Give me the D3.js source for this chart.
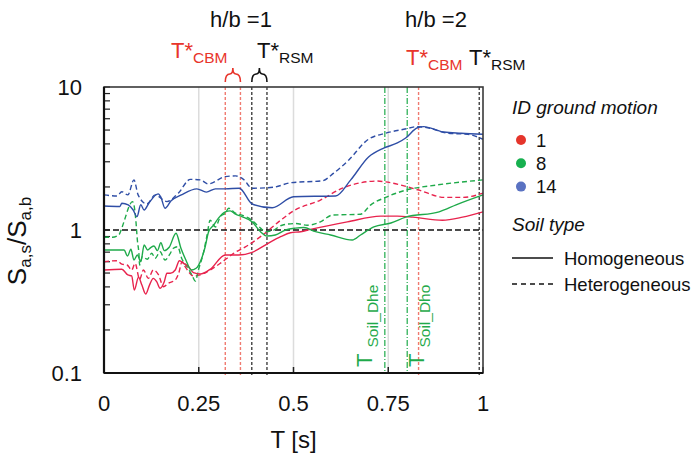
<!DOCTYPE html>
<html>
<head>
<meta charset="utf-8">
<script src="https://cdn.jsdelivr.net/npm/d3@7"></script>
<style>
  body { margin: 0; background: #fff; }
  svg { display: block; font-family: "Liberation Sans", Arial, sans-serif; }
</style>
</head>
<body>
<div id="chart"></div>
<script>
// ---------- data (T [s], Sa,s/Sa,b) ----------
const gm1Hom = [[0,0.525],[0.047,0.531],[0.063,0.485],[0.073,0.477],[0.080,0.380],[0.091,0.467],[0.100,0.412],[0.110,0.357],[0.120,0.412],[0.130,0.459],[0.139,0.435],[0.148,0.391],[0.159,0.435],[0.166,0.498],[0.175,0.498],[0.188,0.525],[0.199,0.610],[0.210,0.585],[0.223,0.554],[0.236,0.503],[0.254,0.492],[0.280,0.531],[0.320,0.669],[0.355,0.669],[0.391,0.698],[0.430,0.798],[0.466,0.898],[0.492,0.957],[0.519,0.973],[0.545,1.01],[0.642,1.14],[0.730,1.25],[0.774,1.25],[0.815,1.23],[0.893,1.17],[0.946,1.23],[1.0,1.34]];
const gm1Het = [[0,0.600],[0.034,0.610],[0.047,0.578],[0.061,0.569],[0.073,0.525],[0.082,0.585],[0.094,0.452],[0.104,0.525],[0.117,0.459],[0.130,0.525],[0.144,0.485],[0.157,0.401],[0.170,0.424],[0.188,0.447],[0.197,0.498],[0.206,0.600],[0.214,0.554],[0.223,0.511],[0.236,0.477],[0.254,0.485],[0.280,0.525],[0.307,0.585],[0.342,0.687],[0.377,0.773],[0.413,0.898],[0.466,1.17],[0.500,1.36],[0.571,1.62],[0.629,1.96],[0.677,2.14],[0.721,2.20],[0.743,2.17],[0.831,1.90],[0.898,1.69],[0.946,1.69],[1.0,1.81]];
const gm8Hom = [[0,0.725],[0.053,0.725],[0.062,0.658],[0.071,0.733],[0.079,0.617],[0.088,0.669],[0.097,0.600],[0.106,0.785],[0.115,0.725],[0.124,0.757],[0.132,0.773],[0.141,0.717],[0.150,0.815],[0.159,0.717],[0.172,0.757],[0.190,0.948],[0.203,0.745],[0.216,0.617],[0.230,0.525],[0.243,0.540],[0.256,0.617],[0.267,0.764],[0.276,0.973],[0.289,1.08],[0.302,1.21],[0.320,1.34],[0.333,1.36],[0.347,1.29],[0.364,1.24],[0.391,1.14],[0.413,0.973],[0.430,0.908],[0.452,0.923],[0.479,1.0],[0.505,1.03],[0.527,1.04],[0.558,0.973],[0.598,0.923],[0.655,0.851],[0.677,0.923],[0.712,1.05],[0.757,1.12],[0.796,1.23],[0.884,1.34],[0.929,1.50],[1.0,1.76]];
const gm8Het = [[0,0.889],[0.022,0.889],[0.039,0.923],[0.048,1.05],[0.057,1.24],[0.066,1.46],[0.075,1.58],[0.079,1.50],[0.084,1.17],[0.088,0.851],[0.092,0.690],[0.094,0.569],[0.101,0.651],[0.114,0.624],[0.126,0.687],[0.135,0.634],[0.148,0.705],[0.161,0.617],[0.175,0.687],[0.183,0.745],[0.194,0.764],[0.206,0.624],[0.219,0.554],[0.232,0.485],[0.241,0.440],[0.249,0.525],[0.262,0.687],[0.272,0.923],[0.280,1.17],[0.294,1.05],[0.307,1.24],[0.320,1.31],[0.329,1.42],[0.347,1.31],[0.364,1.27],[0.382,1.21],[0.395,1.14],[0.413,1.03],[0.426,0.973],[0.444,0.989],[0.470,1.08],[0.505,1.11],[0.536,1.08],[0.571,1.14],[0.602,1.27],[0.677,1.29],[0.704,1.50],[0.743,1.69],[0.796,1.90],[0.876,2.06],[1.0,2.24]];
const gm14Hom = [[0,1.47],[0.042,1.46],[0.047,1.54],[0.064,1.50],[0.077,1.38],[0.087,1.24],[0.097,1.50],[0.106,1.38],[0.119,1.55],[0.143,1.79],[0.150,1.70],[0.161,1.42],[0.177,1.60],[0.204,1.76],[0.245,1.94],[0.270,1.84],[0.294,1.94],[0.320,1.94],[0.357,1.96],[0.391,1.52],[0.444,1.43],[0.500,1.71],[0.611,1.73],[0.651,2.24],[0.698,3.24],[0.738,3.74],[0.774,4.06],[0.796,4.40],[0.827,5.19],[0.844,5.28],[0.870,5.08],[0.897,4.84],[0.942,4.75],[1.0,4.67]];
const gm14Het = [[0,1.76],[0.034,1.73],[0.047,1.85],[0.063,1.76],[0.079,2.24],[0.090,1.76],[0.113,1.52],[0.135,1.76],[0.166,1.58],[0.196,1.81],[0.228,2.26],[0.254,2.24],[0.275,2.10],[0.320,2.36],[0.347,2.39],[0.368,2.26],[0.391,1.96],[0.447,1.99],[0.492,2.14],[0.576,2.21],[0.606,2.50],[0.646,3.09],[0.695,4.26],[0.743,4.75],[0.791,5.06],[0.827,5.28],[0.854,5.19],[0.907,4.75],[0.960,4.67],[1.0,4.31]];

// vertical period markers
const cbmPeriods = [0.32, 0.36, 0.83];
const rsmPeriods = [0.39, 0.43, 0.99];
const soilPeriods = [0.741, 0.80];
const soilLabels = ["Soil_Dhe", "Soil_Dho"];

const xTicks = [0, 0.25, 0.5, 0.75, 1];
const xTickLabels = ["0", "0.25", "0.5", "0.75", "1"];
const yTicks = [0.1, 1, 10];
const yTickLabels = ["0.1", "1", "10"];

const motionIds = ["1", "8", "14"];
const motionColors = ["#e8234d", "#1faa4a", "#2f4ea6"];
const legendDotColors = ["#e5352b", "#17b04f", "#5a72c2"];
const soilTypes = ["Homogeneous", "Heterogeneous"];

// ---------- layout ----------
const W = 695, H = 458;
const pL = 104, pR = 483, pT = 87, pB = 373;

const svg = d3.select("#chart").append("svg").attr("width", W).attr("height", H);

const x = d3.scaleLinear().domain([0, 1]).range([pL, pR]);
const y = d3.scaleLog().domain([0.1, 10]).range([pB, pT]);

// gridlines
svg.append("g").selectAll("line").data([0.25, 0.5, 0.75]).enter().append("line")
    .attr("x1", d => x(d)).attr("x2", d => x(d)).attr("y1", pT).attr("y2", pB)
    .attr("stroke", "#dcdcdc").attr("stroke-width", 1.5);

// minor/major ticks on y (inside)
const yAllTicks = y.ticks();
svg.append("g").selectAll("line").data(yAllTicks).enter().append("line")
    .attr("x1", pL).attr("x2", pL + 6).attr("y1", d => y(d)).attr("y2", d => y(d))
    .attr("stroke", "#222").attr("stroke-width", 1.2);

// x ticks (inside)
svg.append("g").selectAll("line").data(xTicks).enter().append("line")
    .attr("x1", d => x(d)).attr("x2", d => x(d)).attr("y1", pB).attr("y2", pB - 6)
    .attr("stroke", "#222").attr("stroke-width", 1.5);

// vertical period lines
svg.append("g").selectAll("line").data(cbmPeriods).enter().append("line")
    .attr("x1", d => x(d)).attr("x2", d => x(d)).attr("y1", pT).attr("y2", pB + 2)
    .attr("stroke", "#f07a70").attr("stroke-width", 1.4).attr("stroke-dasharray", "3,2");
svg.append("g").selectAll("line").data(rsmPeriods).enter().append("line")
    .attr("x1", d => x(d)).attr("x2", d => x(d)).attr("y1", pT).attr("y2", pB + 2)
    .attr("stroke", "#222").attr("stroke-width", 1.2).attr("stroke-dasharray", "3,2");
svg.append("g").selectAll("line").data(soilPeriods).enter().append("line")
    .attr("x1", d => x(d)).attr("x2", d => x(d)).attr("y1", pT).attr("y2", pB)
    .attr("stroke", "#1faa4a").attr("stroke-width", 1.2).attr("stroke-dasharray", "6,2,1,2");

// unity line
svg.append("line")
    .attr("x1", pL).attr("x2", pR).attr("y1", y(1)).attr("y2", y(1))
    .attr("stroke", "#111").attr("stroke-width", 1.4).attr("stroke-dasharray", "6,3");

// curves
const line = d3.line().x(d => x(d[0])).y(d => y(d[1])).curve(d3.curveMonotoneX);
const series = [
    { data: gm1Het, c: 0, dash: true }, { data: gm8Het, c: 1, dash: true }, { data: gm14Het, c: 2, dash: true },
    { data: gm1Hom, c: 0, dash: false }, { data: gm8Hom, c: 1, dash: false }, { data: gm14Hom, c: 2, dash: false }
];
svg.append("g").selectAll("path").data(series).enter().append("path")
    .attr("d", d => line(d.data))
    .attr("fill", "none")
    .attr("stroke", d => motionColors[d.c])
    .attr("stroke-width", 1.4)
    .attr("stroke-dasharray", d => d.dash ? "5,3" : null);

// frame
svg.append("rect").attr("x", pL).attr("y", pT).attr("width", pR - pL).attr("height", pB - pT)
    .attr("fill", "none").attr("stroke", "#3a3a3a").attr("stroke-width", 1.6);
svg.append("line").attr("x1", pL).attr("x2", pL).attr("y1", pT).attr("y2", pB)
    .attr("stroke", "#111").attr("stroke-width", 2.2);
svg.append("line").attr("x1", pL).attr("x2", pR).attr("y1", pB).attr("y2", pB)
    .attr("stroke", "#111").attr("stroke-width", 2.2);

// tick labels
svg.append("g").selectAll("text").data(xTicks).enter().append("text")
    .attr("x", d => x(d)).attr("y", 411).attr("text-anchor", "middle")
    .attr("font-size", 22).attr("fill", "#111").text((d, i) => xTickLabels[i]);
svg.append("g").selectAll("text").data(yTicks).enter().append("text")
    .attr("x", 82).attr("y", d => y(d) + 8).attr("text-anchor", "end")
    .attr("font-size", 22).attr("fill", "#111").text((d, i) => yTickLabels[i]);

// axis titles
svg.append("text").attr("x", x(0.5)).attr("y", 448).attr("text-anchor", "middle")
    .attr("font-size", 24).attr("fill", "#111").text("T [s]");
const yt = svg.append("text").attr("transform", "translate(26,241) rotate(-90)")
    .attr("text-anchor", "middle").attr("font-size", 26).attr("fill", "#111");
yt.append("tspan").text("S");
yt.append("tspan").attr("font-size", 17).attr("dy", 5).text("a,s");
yt.append("tspan").attr("dy", -5).text("/S");
yt.append("tspan").attr("font-size", 17).attr("dy", 5).text("a,b");

// top annotations
function periodLabel(px, py, sub, color) {
    const t = svg.append("text").attr("x", px).attr("y", py).attr("font-size", 22).attr("fill", color);
    t.append("tspan").text("T*");
    t.append("tspan").attr("font-size", 15.5).attr("dy", 5).text(sub);
}
svg.append("text").attr("x", 241).attr("y", 27).attr("text-anchor", "middle")
    .attr("font-size", 22).attr("fill", "#111").text("h/b =1");
svg.append("text").attr("x", 436).attr("y", 27).attr("text-anchor", "middle")
    .attr("font-size", 22).attr("fill", "#111").text("h/b =2");
periodLabel(171, 58, "CBM", "#e8352b");
periodLabel(257, 58, "RSM", "#111");
periodLabel(406, 65, "CBM", "#e8352b");
periodLabel(469, 65, "RSM", "#111");

// over-braces spanning each pair of h/b=1 lines
function brace(x0, x1, color) {
    const xc = (x0 + x1) / 2, yb = 82, ym = 74, ytop = 68;
    svg.append("path")
        .attr("d", `M${x0},${yb} Q${x0},${ym} ${xc - 3},${ym} Q${xc},${ym} ${xc},${ytop} Q${xc},${ym} ${xc + 3},${ym} Q${x1},${ym} ${x1},${yb}`)
        .attr("fill", "none").attr("stroke", color).attr("stroke-width", 1.6);
}
brace(x(cbmPeriods[0]), x(cbmPeriods[1]), "#e8352b");
brace(x(rsmPeriods[0]), x(rsmPeriods[1]), "#111");

// soil period labels (rotated), baseline offsets from their lines
const soilLabelDx = [-13, 17];
soilPeriods.forEach((p, i) => {
    const px = x(p) + soilLabelDx[i];
    const t = svg.append("text").attr("transform", `translate(${px},367) rotate(-90)`)
        .attr("font-size", 22).attr("fill", "#1faa4a");
    t.append("tspan").text("T");
    t.append("tspan").attr("font-size", 15.5).attr("dy", 6).attr("dx", 6).text(soilLabels[i]);
});

// legend
const lg = svg.append("g");
lg.append("text").attr("x", 512).attr("y", 114).attr("font-size", 19).attr("font-style", "italic")
    .attr("fill", "#111").text("ID ground motion");
motionIds.forEach((id, i) => {
    const cy = 140 + i * 23.3;
    lg.append("circle").attr("cx", 521).attr("cy", cy).attr("r", 5).attr("fill", legendDotColors[i]);
    lg.append("text").attr("x", 536).attr("y", cy + 6.5).attr("font-size", 18.5).attr("fill", "#111").text(id);
});
lg.append("text").attr("x", 512).attr("y", 231).attr("font-size", 19).attr("font-style", "italic")
    .attr("fill", "#111").text("Soil type");
soilTypes.forEach((s, i) => {
    const cy = 258 + i * 26;
    lg.append("line").attr("x1", 512).attr("x2", 553).attr("y1", cy).attr("y2", cy)
        .attr("stroke", "#111").attr("stroke-width", 1.4).attr("stroke-dasharray", i ? "5,4" : null);
    lg.append("text").attr("x", 564).attr("y", cy + 6.5).attr("font-size", 18.5).attr("fill", "#111").text(s);
});
</script>
</body>
</html>
